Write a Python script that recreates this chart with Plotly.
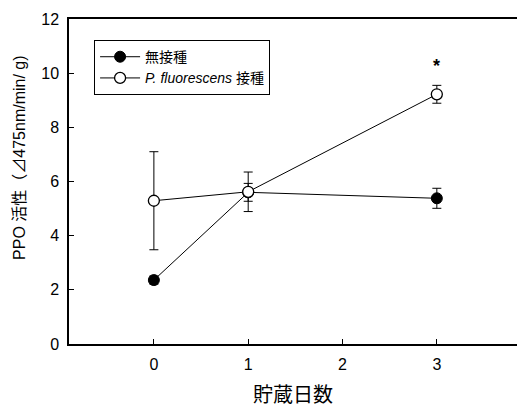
import plotly.graph_objects as go

# Storage days and PPO activity (mean ± SD)
days = [0, 1, 3]
ctrl_mean = [2.36, 5.60, 5.38]
ctrl_sd = [0.15, 0.33, 0.37]
pf_mean = [5.29, 5.62, 9.22]
pf_sd = [1.81, 0.73, 0.33]

x_ticks = [0, 1, 2, 3]
y_ticks = [0, 2, 4, 6, 8, 10, 12]

FONT = "Arial, 'Liberation Sans', 'Noto Sans CJK JP', sans-serif"

fig = go.Figure()

fig.add_trace(go.Scatter(
    x=days, y=ctrl_mean, mode="lines+markers", name="無接種",
    line=dict(color="black", width=1),
    marker=dict(symbol="circle", size=11, color="black", line=dict(color="black", width=1)),
    error_y=dict(type="data", array=ctrl_sd, visible=True, color="black", thickness=1, width=4.5),
))

fig.add_trace(go.Scatter(
    x=days, y=pf_mean, mode="lines+markers", name="<i>P. fluorescens</i> 接種",
    line=dict(color="black", width=1),
    marker=dict(symbol="circle", size=11, color="white", line=dict(color="black", width=1.3)),
    error_y=dict(type="data", array=pf_sd, visible=True, color="black", thickness=1, width=4.5),
))

# significance mark above day 3
fig.add_annotation(x=3, y=pf_mean[2] + pf_sd[2] + 0.7, text="<b>*</b>", showarrow=False,
                   font=dict(size=18, color="black", family=FONT), xref="x", yref="y")

# axis titles
fig.add_annotation(x=0.5, y=-0.157, xref="paper", yref="paper", text="貯蔵日数",
                   showarrow=False, font=dict(size=20, color="black", family=FONT),
                   xanchor="center", yanchor="middle")
fig.add_annotation(x=-0.112, y=0.575, xref="paper", yref="paper",
                   text="PPO 活性（⊿475nm/min/ g)", textangle=-90,
                   showarrow=False, font=dict(size=16, color="black", family=FONT),
                   xanchor="center", yanchor="middle")

fig.update_layout(
    width=517, height=405,
    margin=dict(l=69, r=0, t=19, b=61),
    paper_bgcolor="white", plot_bgcolor="white",
    font=dict(family=FONT, color="black", size=16),
    showlegend=True,
    legend=dict(x=0.056, y=0.935, xanchor="left", yanchor="top",
                bordercolor="black", borderwidth=1, bgcolor="white",
                font=dict(size=14, family=FONT), itemwidth=40,
                tracegroupgap=0),
    xaxis=dict(range=[-0.9, 3.85], tickvals=x_ticks, ticks="inside", ticklen=5,
               tickcolor="black", showline=True, linecolor="black", linewidth=1.5,
               mirror=True, showgrid=False, zeroline=False, ticklabelstandoff=5,
               tickfont=dict(size=16, family=FONT)),
    yaxis=dict(range=[0, 12], tickvals=y_ticks, ticks="inside", ticklen=5,
               tickcolor="black", showline=True, linecolor="black", linewidth=1.5,
               showgrid=False, zeroline=False, ticklabelstandoff=5,
               tickfont=dict(size=16, family=FONT)),
)

fig.write_html("out.html")
